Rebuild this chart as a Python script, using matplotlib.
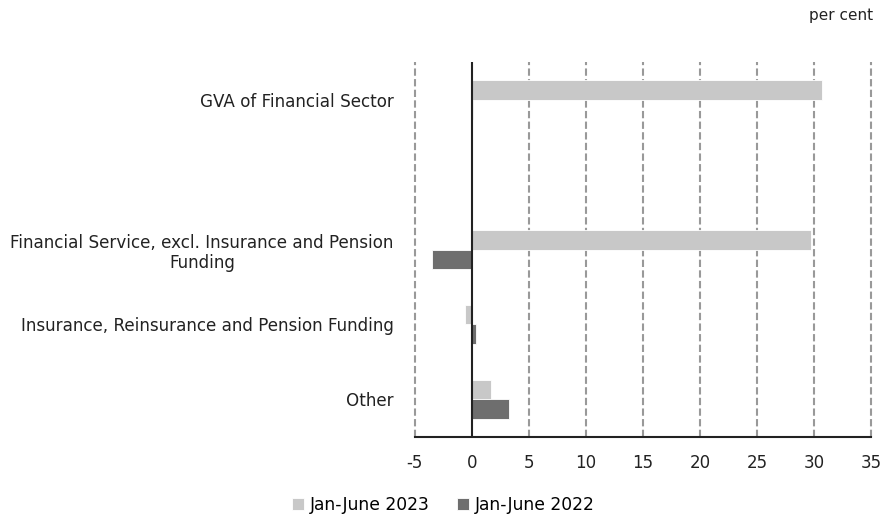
import matplotlib
matplotlib.use('Agg')
import matplotlib.pyplot as plt
import numpy as np

plt.rcParams['font.family'] = ['DejaVu Sans']

categories = ["GVA of Financial Sector", "",
              "Financial Service, excl. Insurance and Pension\nFunding",
              "Insurance, Reinsurance and Pension Funding",
              "Other"]
jan_june_2023 = [30.7, 0, 29.7, -0.6, 1.7]
jan_june_2022 = [0.1, 0, -3.5, 0.4, 3.3]
xticks = [-5, 0, 5, 10, 15, 20, 25, 30, 35]

fig = plt.figure(figsize=(8.86, 5.14), dpi=100)
ax = fig.add_axes([0.468, 0.150, 0.5155, 0.729])

y = np.arange(len(categories))
h = 0.26
ax.barh(y - h / 2, jan_june_2023, height=h, color='#c8c8c8', edgecolor='white', linewidth=0.6,
        label='Jan-June 2023', zorder=3)
ax.barh(y + h / 2, jan_june_2022, height=h, color='#6e6e6e', edgecolor='white', linewidth=0.6,
        label='Jan-June 2022', zorder=3)

ax.set_ylim(4.5, -0.5)
ax.set_xlim(-5, 35)
ax.set_xticks(xticks)
ax.set_xticklabels([str(t) for t in xticks], fontsize=12, color='#222222')
ax.set_yticks(y)
ax.set_yticklabels(categories, fontsize=12.1, color='#222222', multialignment='center')
ax.tick_params(length=0, pad=12)
ax.tick_params(axis='y', pad=15)

for t in xticks:
    if t != 0:
        ax.axvline(t, color='#999999', linestyle=(0, (3.5, 1.6)), linewidth=1.5, zorder=1,
                   clip_on=False)
ax.axvline(0, color='#222222', linewidth=1.5, zorder=4)

for s in ['top', 'right', 'left']:
    ax.spines[s].set_visible(False)
ax.spines['bottom'].set_color('#222222')
ax.spines['bottom'].set_linewidth(1.5)
ax.spines['bottom'].set_zorder(5)

fig.text(0.985, 0.97, 'per cent', ha='right', va='center', fontsize=11, color='#222222')
fig.legend(loc='center', bbox_to_anchor=(0.5, 0.018), ncol=2, frameon=False, borderpad=0,
           fontsize=12.3, handlelength=0.75, handleheight=0.75, handletextpad=0.3, columnspacing=1.6)

fig.savefig('out.png', dpi=100)
